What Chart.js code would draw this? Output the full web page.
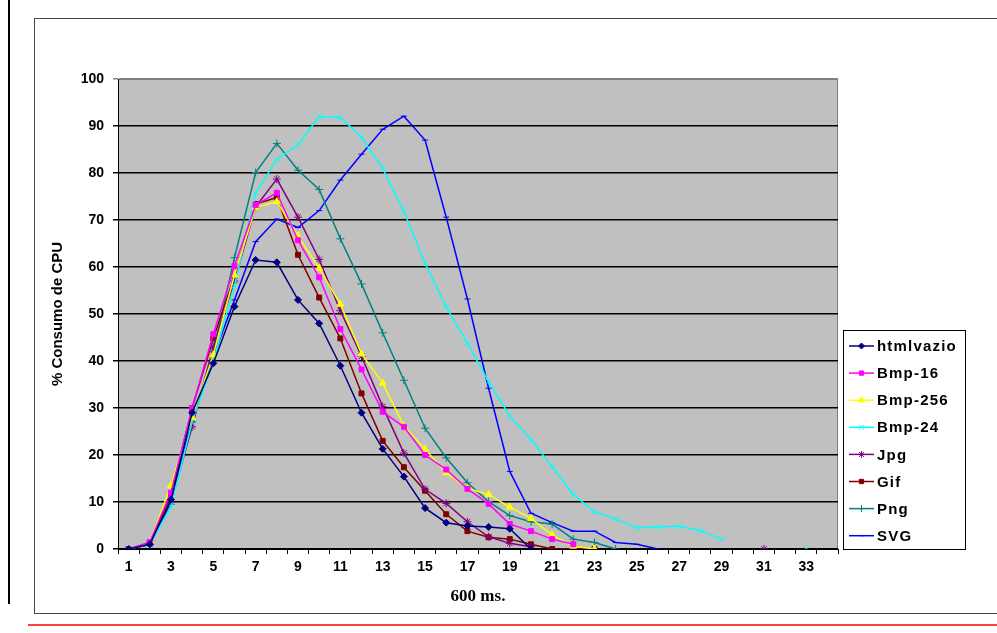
<!DOCTYPE html>
<html>
<head>
<meta charset="utf-8">
<script src="https://cdn.jsdelivr.net/npm/chart.js@4.4.1/dist/chart.umd.min.js"></script>
<style>
  html, body { margin: 0; padding: 0; background: #fff; }
  #wrap { width: 997px; height: 633px; position: relative; }
</style>
</head>
<body>
<div id="wrap"><canvas id="cpu" width="997" height="633"></canvas></div>
<script>
// CPU usage per 600 ms sample, one series per page type
const categories = Array.from({ length: 34 }, (_, i) => String(i + 1));
const yTicks = [0, 10, 20, 30, 40, 50, 60, 70, 80, 90, 100];

const htmlvazio = [0, 1, 10.5, 29, 39.5, 51.6, 61.5, 61, 53, 48, 39, 29, 21.3, 15.4, 8.7, 5.6, 4.9, 4.7, 4.3, 0];
const bmp16 = [0, 1.5, 12, 30, 45.7, 60.2, 73.2, 75.8, 65.7, 57.8, 46.8, 38.2, 29.2, 26, 20, 16.9, 12.8, 9.6, 5.3, 3.8, 2.1, 1];
const bmp256 = [0, 1.5, 13.5, 28, 41.3, 58.3, 72.7, 73.9, 66.6, 59.7, 52.1, 41.5, 35.3, 26.2, 21.2, 16.2, 12.9, 11.6, 8.9, 6.5, 3, 0.6, 0];
const bmp24 = [0, 1, 9, 27, 40, 56, 75.7, 82.9, 86, 92, 91.8, 87.6, 81, 71.8, 60.8, 51.5, 43.8, 35.6, 28.3, 23.3, 17.5, 11.6, 7.9, 6.4, 4.5, 4.7, 4.9, 3.9, 2.1, null, null, null, 0];
const jpg = [0, 1, 10, 26, 43, 57, 72.8, 78.7, 70.6, 61.6, 50.7, 41, 30.3, 20.4, 12.7, 9.7, 5.8, 2.6, 1.2, 0.5, null, null, null, null, null, null, null, null, null, null, 0];
const gif = [0, 1.2, 11.5, 30, 44.8, 58.1, 73.4, 74.8, 62.6, 53.5, 44.8, 33.1, 23, 17.4, 12.4, 7.4, 3.8, 2.5, 2.1, 1, 0, 0, 0];
const png = [0, 1, 9.5, 27, 42, 62, 80.1, 86.3, 80.6, 76.5, 66, 56.4, 46, 35.9, 25.7, 19.4, 14.1, 10.1, 7.1, 5.8, 5.3, 2.1, 1.4, 0];
const svg = [0, 1, 10, 28, 41, 53, 65.4, 70.2, 68.4, 72, 78.5, 84, 89.3, 92.1, 87, 70.6, 53.2, 34.2, 16.5, 7.6, 5.6, 3.8, 3.8, 1.4, 1, 0];

const series = [
  { label: 'htmlvazio', data: htmlvazio, color: '#000080', point: 'rectRot', r: 3.5 },
  { label: 'Bmp-16', data: bmp16, color: '#ff00ff', point: 'rect', r: 3.5 },
  { label: 'Bmp-256', data: bmp256, color: '#ffff00', point: 'triangle', r: 4 },
  { label: 'Bmp-24', data: bmp24, color: '#00ffff', point: 'crossRot', r: 4 },
  { label: 'Jpg', data: jpg, color: '#800080', point: 'star', r: 4 },
  { label: 'Gif', data: gif, color: '#800000', point: 'rect', r: 3.5 },
  { label: 'Png', data: png, color: '#008080', point: 'cross', r: 4 },
  { label: 'SVG', data: svg, color: '#0000ff', point: 'line', r: 3 },
];

const FONT = 'Liberation Sans, Arial, sans-serif';

// page frame, plot background
const frame = {
  id: 'frame',
  beforeDraw(chart) {
    const { ctx, chartArea: a } = chart;
    ctx.save();
    ctx.fillStyle = '#fff';
    ctx.fillRect(0, 0, chart.width, chart.height);
    ctx.strokeStyle = '#000';
    ctx.lineWidth = 2;
    ctx.beginPath(); ctx.moveTo(9, 0); ctx.lineTo(9, 604); ctx.stroke();
    ctx.lineWidth = 1;
    ctx.strokeStyle = '#444';
    ctx.strokeRect(34.5, 18.5, 1000, 595);
    ctx.strokeStyle = '#ff0000';
    ctx.lineWidth = 1.5;
    ctx.beginPath(); ctx.moveTo(28, 625); ctx.lineTo(997, 625); ctx.stroke();
    ctx.lineWidth = 1;
    ctx.fillStyle = '#c0c0c0';
    ctx.fillRect(a.left, a.top, a.right - a.left, a.bottom - a.top);
    ctx.strokeStyle = '#808080';
    ctx.strokeRect(a.left + 0.5, a.top + 0.5, a.right - a.left - 1, a.bottom - a.top);
    ctx.restore();
  },
};

// boxed legend on the right, line sample plus marker
const sideLegend = {
  id: 'sideLegend',
  afterDraw(chart) {
    const { ctx } = chart;
    const box = { x: 843.5, y: 330.5, w: 122, h: 219 };
    ctx.save();
    ctx.fillStyle = '#fff';
    ctx.fillRect(box.x, box.y, box.w, box.h);
    ctx.strokeStyle = '#000';
    ctx.lineWidth = 1;
    ctx.strokeRect(box.x, box.y, box.w, box.h);
    chart.data.datasets.forEach((ds, i) => {
      const y = 346 + i * 27.1;
      ctx.strokeStyle = ds.borderColor;
      ctx.fillStyle = ds.borderColor;
      ctx.lineWidth = 1.5;
      ctx.beginPath(); ctx.moveTo(849, y); ctx.lineTo(874, y); ctx.stroke();
      ctx.lineWidth = 1;
      Chart.helpers.drawPoint(ctx, {
        pointStyle: ds.pointStyle, radius: ds.pointRadius - 0.5, borderWidth: 1, rotation: 0,
      }, 861.5, y);
      ctx.fillStyle = '#000';
      ctx.font = 'bold 15px ' + FONT;
      ctx.textBaseline = 'middle';
      ctx.letterSpacing = '1.2px';
      ctx.fillText(ds.label, 877, y + 1);
      ctx.letterSpacing = '0px';
    });
    ctx.restore();
  },
};

new Chart(document.getElementById('cpu'), {
  type: 'line',
  data: {
    labels: categories,
    datasets: series.map(s => ({
      label: s.label,
      data: s.data,
      borderColor: s.color,
      backgroundColor: s.color,
      pointBackgroundColor: s.color,
      pointBorderColor: s.color,
      pointStyle: s.point,
      pointRadius: s.r,
      pointBorderWidth: 1,
      borderWidth: 1.5,
      tension: 0,
      spanGaps: false,
    })),
  },
  options: {
    responsive: false,
    animation: false,
    events: [],
    layout: { padding: { left: 0, right: 159, top: 79, bottom: 0 } },
    plugins: { legend: { display: false }, tooltip: { enabled: false } },
    scales: {
      x: {
        type: 'category',
        offset: true,
        afterFit: s => { s.height = 84; },
        grid: { drawOnChartArea: false, drawTicks: true, tickLength: 5, offset: true, color: '#000' },
        border: { color: '#000', width: 1 },
        ticks: {
          autoSkip: false, maxRotation: 0, color: '#000', padding: 5,
          font: { family: FONT, size: 14, weight: 'bold' },
          callback: (v, i) => (i % 2 === 0 ? categories[i] : ''),
        },
        title: {
          display: true, text: '600 ms.', color: '#000',
          font: { family: 'Liberation Serif, Times New Roman, serif', size: 17, weight: 'bold' },
          padding: { top: 0, bottom: 26 },
        },
      },
      y: {
        min: 0, max: 100,
        afterFit: s => { s.width = 118; },
        afterBuildTicks: s => { s.ticks = yTicks.map(v => ({ value: v })); },
        grid: {
          drawTicks: true, tickLength: 5, lineWidth: 1.5,
          color: c => (c.tick && c.tick.value === 100 ? '#808080' : '#000'),
        },
        border: { color: '#000', width: 1 },
        ticks: { color: '#000', padding: 9, font: { family: FONT, size: 14, weight: 'bold' } },
        title: {
          display: true, text: '% Consumo de CPU', color: '#000',
          font: { family: FONT, size: 15, weight: 'bold' },
          padding: { top: 49, bottom: 0 },
        },
      },
    },
  },
  plugins: [frame, sideLegend],
});
</script>
</body>
</html>
